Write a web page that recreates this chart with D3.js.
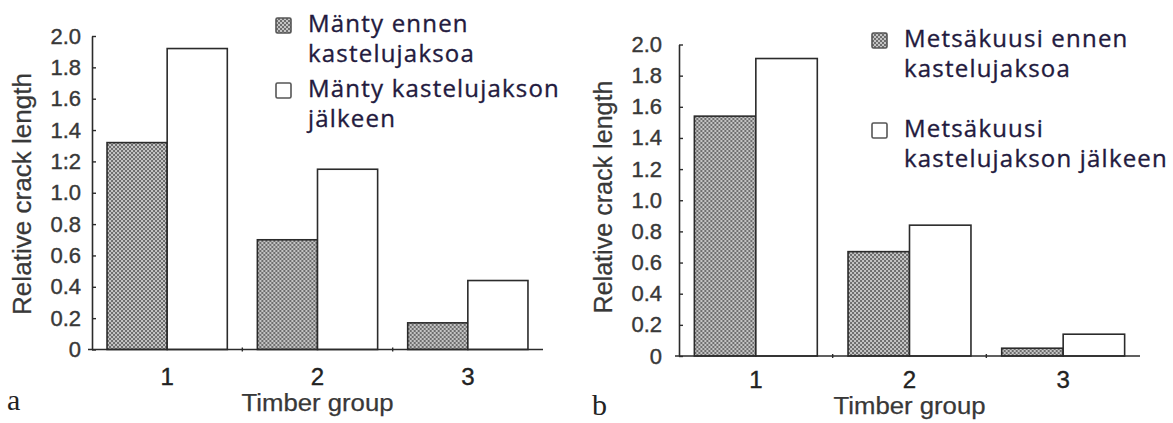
<!DOCTYPE html>
<html>
<head>
<meta charset="utf-8">
<script src="https://cdn.jsdelivr.net/npm/d3@7"></script>
<style>
  body { margin: 0; background: #fff; }
  #mydiv { width: 1173px; height: 423px; }
</style>
</head>
<body>
<div id="mydiv"></div>
<script>
// data
var groups = ["1", "2", "3"];
var yTicks = [0, 0.2, 0.4, 0.6, 0.8, 1.0, 1.2, 1.4, 1.6, 1.8, 2.0];
var tickLabelsA = ["0", "0.2", "0.4", "0.6", "0.8", "1.0", "1:2", "1.4", "1.6", "1.8", "2.0"];
var tickLabelsB = ["0", "0.2", "0.4", "0.6", "0.8", "1.0", "1.2", "1.4", "1.6", "1.8", "2.0"];

var pineBefore = [1.32, 0.70, 0.17];
var pineAfter = [1.92, 1.15, 0.44];
var spruceBefore = [1.54, 0.67, 0.05];
var spruceAfter = [1.91, 0.84, 0.14];

var legendA = [["Mänty ennen", "kastelujaksoa"], ["Mänty kastelujakson", "jälkeen"]];
var legendB = [["Metsäkuusi ennen", "kastelujaksoa"], ["Metsäkuusi", "kastelujakson jälkeen"]];

var xTitle = "Timber group";
var yTitle = "Relative crack length";

var ink = "#2b2b2b";
var textInk = "#383838";
var legendInk = "#231a3e";
var sans = "'Liberation Sans', Arial, sans-serif";

var svg = d3.select("#mydiv").append("svg")
  .attr("width", 1173)
  .attr("height", 423)
  .style("background-color", "white");

// dotted screen used on the "before" bars
var defs = svg.append("defs");
var pat = defs.append("pattern")
  .attr("id", "dots")
  .attr("patternUnits", "userSpaceOnUse")
  .attr("width", 4)
  .attr("height", 4);
pat.append("rect").attr("width", 4).attr("height", 4).attr("fill", "#c4c4c4");
pat.append("rect").attr("x", 0).attr("y", 0).attr("width", 2).attr("height", 2).attr("fill", "#6e6e6e");
pat.append("rect").attr("x", 2).attr("y", 2).attr("width", 2).attr("height", 2).attr("fill", "#6e6e6e");

// scanned text is a bit heavier than the plain font
function scanText(sel, size, color, w) {
  sel.attr("fill", color)
    .attr("stroke", color)
    .attr("stroke-width", w)
    .style("font-family", sans)
    .style("font-size", size + "px");
}

function drawPanel(p) {
  var g = svg.append("g");

  var x = d3.scaleBand()
    .domain(groups)
    .range([p.x0, p.x1])
    .paddingInner(0.2)
    .paddingOuter(0.1);

  var xs = d3.scaleBand()
    .domain(["before", "after"])
    .range([0, x.bandwidth()]);

  var y = d3.scaleLinear()
    .domain([0, 2])
    .range([p.yBottom, p.yTop]);

  var rows = groups.map(function(d, i) {
    return {group: d, before: p.before[i], after: p.after[i]};
  });

  // bars
  var bg = g.selectAll(".grp")
    .data(rows)
    .enter().append("g")
    .attr("transform", function(d) { return "translate(" + x(d.group) + ",0)"; });

  bg.append("rect")
    .attr("x", xs("before"))
    .attr("width", xs.bandwidth())
    .attr("y", function(d) { return y(d.before); })
    .attr("height", function(d) { return y(0) - y(d.before); })
    .attr("fill", "url(#dots)")
    .attr("stroke", ink)
    .attr("stroke-width", 1.6);

  bg.append("rect")
    .attr("x", xs("after"))
    .attr("width", xs.bandwidth())
    .attr("y", function(d) { return y(d.after); })
    .attr("height", function(d) { return y(0) - y(d.after); })
    .attr("fill", "white")
    .attr("stroke", ink)
    .attr("stroke-width", 1.6);

  // y axis
  var yaxis = g.append("g")
    .attr("transform", "translate(" + p.x0 + ",0)")
    .call(d3.axisLeft(y)
      .tickValues(yTicks)
      .tickSizeInner(-4)
      .tickSizeOuter(0)
      .tickPadding(p.yPad)
      .tickFormat(function(d, i) { return p.tickLabels[i]; }));
  yaxis.select(".domain").attr("stroke", ink).attr("stroke-width", 1.6);
  yaxis.selectAll("line").attr("stroke", ink).attr("stroke-width", 1.4);
  scanText(yaxis.selectAll("text"), 22, textInk, 0.4);

  // x axis, small ticks sit between the groups
  var xaxis = g.append("g")
    .attr("transform", "translate(0," + y(0) + ")")
    .call(d3.axisBottom(x)
      .tickSize(0)
      .tickPadding(p.xPad));
  xaxis.select(".domain")
    .attr("d", "M" + (p.x0 - 4) + ",0H" + p.x1)
    .attr("stroke", ink)
    .attr("stroke-width", 1.6);
  scanText(xaxis.selectAll("text"), 24, "#222", 0.4);

  xaxis.selectAll(".sep")
    .data(groups.slice(1))
    .enter().append("line")
    .attr("class", "sep")
    .attr("x1", function(d) { return x(d) - x.step() * x.paddingInner() / 2; })
    .attr("x2", function(d) { return x(d) - x.step() * x.paddingInner() / 2; })
    .attr("y1", -2)
    .attr("y2", 2)
    .attr("stroke", ink)
    .attr("stroke-width", 1.4);

  // titles
  var xt = g.append("text")
    .attr("x", (p.x0 + p.x1) / 2)
    .attr("y", p.xTitleY)
    .attr("text-anchor", "middle")
    .attr("textLength", 152)
    .attr("lengthAdjust", "spacingAndGlyphs")
    .text(xTitle);
  scanText(xt, 23, textInk, 0.25);

  var yt = g.append("text")
    .attr("transform", "translate(" + p.yTitleX + "," + p.yTitleMid + ") rotate(-90)")
    .attr("text-anchor", "middle")
    .attr("textLength", p.yTitleLen)
    .attr("lengthAdjust", "spacingAndGlyphs")
    .text(yTitle);
  scanText(yt, 25, textInk, 0.25);

  g.append("text")
    .attr("x", p.letterX)
    .attr("y", p.letterY)
    .attr("fill", "#222")
    .style("font-family", "'Liberation Serif', 'Times New Roman', serif")
    .style("font-size", "30px")
    .text(p.letter);

  // legend
  p.legend.forEach(function(lines, i) {
    var top = p.legY[i];
    g.append("rect")
      .attr("x", p.legX)
      .attr("y", top)
      .attr("width", 15)
      .attr("height", 15)
      .attr("rx", 1.5)
      .attr("fill", i == 0 ? "url(#dots)" : "white")
      .attr("stroke", "#555")
      .attr("stroke-width", 1.6);
    lines.forEach(function(t, j) {
      g.append("text")
        .attr("x", p.legX + 32)
        .attr("y", top + 14 + j * 30)
        .attr("fill", legendInk)
        .attr("stroke", legendInk)
        .attr("stroke-width", 0.35)
        .style("font-family", "'Open Sans', sans-serif")
        .style("font-size", "24px")
        .style("letter-spacing", "1.2px")
        .text(t);
    });
  });
}

drawPanel({
  x0: 92, x1: 543, yBottom: 349.5, yTop: 36,
  before: pineBefore, after: pineAfter,
  tickLabels: tickLabelsA, yPad: 11, xPad: 18,
  xTitleY: 411, yTitleX: 31, yTitleMid: 194, yTitleLen: 242,
  letter: "a", letterX: 7, letterY: 410,
  legend: legendA, legX: 276, legY: [18, 83]
});

drawPanel({
  x0: 679, x1: 1140, yBottom: 356, yTop: 44.5,
  before: spruceBefore, after: spruceAfter,
  tickLabels: tickLabelsB, yPad: 17, xPad: 15,
  xTitleY: 414, yTitleX: 612, yTitleMid: 197, yTitleLen: 233,
  letter: "b", letterX: 592, letterY: 415,
  legend: legendB, legX: 872, legY: [33, 123]
});
</script>
</body>
</html>
